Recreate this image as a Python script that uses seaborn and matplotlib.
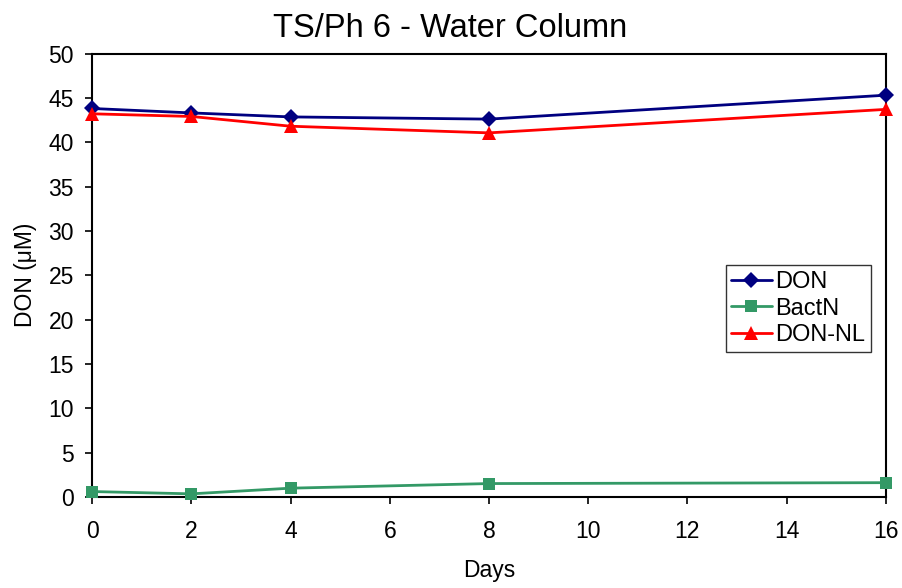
import matplotlib
matplotlib.use("Agg")
import matplotlib.pyplot as plt
import seaborn as sns
import pandas as pd

days = [0, 2, 4, 8, 16]
don = [43.8, 43.3, 42.85, 42.6, 45.3]
bactn = [0.6, 0.34, 0.98, 1.5, 1.6]
don_nl = [43.2, 42.9, 41.8, 41.05, 43.7]
series_names = ["DON", "BactN", "DON-NL"]
x_ticks = [0, 2, 4, 6, 8, 10, 12, 14, 16]
y_ticks = [0, 5, 10, 15, 20, 25, 30, 35, 40, 45, 50]

sns.set_theme(style="white")
plt.rcParams['font.family'] = ['Liberation Sans', 'DejaVu Sans']
plt.rcParams['text.color'] = 'black'
plt.rcParams['axes.labelcolor'] = 'black'
plt.rcParams['xtick.color'] = 'black'
plt.rcParams['ytick.color'] = 'black'

df = pd.DataFrame({
    "Days": days * 3,
    "value": don + bactn + don_nl,
    "series": [series_names[0]] * len(days) + [series_names[1]] * len(days) + [series_names[2]] * len(days),
})

colors = {"DON": "#000080", "BactN": "#339966", "DON-NL": "#FF0000"}
markers = {"DON": "D", "BactN": "s", "DON-NL": "^"}
msizes = {"DON": 8, "BactN": 9, "DON-NL": 10}

fig = plt.figure(figsize=(9.03, 5.88), dpi=100)
ax = fig.add_axes([0.102, 0.155, 0.879, 0.754])

for name in series_names:
    sub = df[df["series"] == name]
    sns.lineplot(data=sub, x="Days", y="value", ax=ax, color=colors[name],
                 marker=markers[name], markersize=msizes[name], markeredgewidth=0,
                 linewidth=2, label=name, clip_on=False, zorder=3)

ax.set_xlim(0, 16)
ax.set_ylim(0, 50)
ax.set_xticks(x_ticks)
ax.set_yticks(y_ticks)
ax.tick_params(axis='both', which='major', direction='out', length=5, width=1.2,
               color='black', labelsize=16.5, bottom=True, left=True)
ax.tick_params(axis='x', pad=12)
ax.tick_params(axis='y', pad=8)
for s in ax.spines.values():
    s.set_color('black')
    s.set_linewidth(1.5)
ax.set_xlabel("Days", fontsize=16.5, labelpad=11)
ax.set_ylabel("DON (\u03bcM)", fontsize=16.5, labelpad=8)
ax.set_title("TS/Ph 6 - Water Column", fontsize=23.5, pad=12, x=0.451)

leg = ax.legend(loc='upper left', bbox_to_anchor=(0.798, 0.523), fontsize=17,
                frameon=True, fancybox=False, handlelength=1.7, handletextpad=0.15,
                borderpad=0.25, labelspacing=0.2, borderaxespad=0)
leg.get_frame().set_edgecolor('black')
leg.get_frame().set_linewidth(1.0)

fig.savefig("out.png", dpi=100)
